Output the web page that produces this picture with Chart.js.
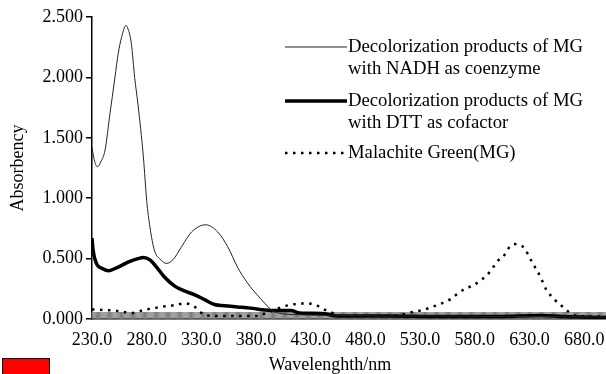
<!DOCTYPE html>
<html>
<head>
<meta charset="utf-8">
<script src="https://cdn.jsdelivr.net/npm/chart.js@4.4.1/dist/chart.umd.min.js"></script>
<style>
html, body { margin: 0; padding: 0; background: #fff; }
#wrap { position: relative; width: 606px; height: 374px; overflow: hidden; }
#mark { position: absolute; left: 2px; top: 358px; width: 46px; height: 20px; background: #ff0000; border: 1px solid #000; }
</style>
</head>
<body>
<div id="wrap">
  <canvas id="myChart" width="606" height="374"></canvas>
  <div id="mark"></div>
</div>
<script>
// wavelengths (nm) and absorbance
var nadhNm  = [230, 232, 235, 238, 242, 246, 251, 254, 257, 261, 263, 266, 269, 272, 277, 280, 283, 287, 293, 298, 304, 312, 321, 334, 345, 354, 363, 372, 381, 388, 394, 400, 420, 450, 500, 550, 600, 650, 700];
var nadhAbs = [1.42, 1.32, 1.26, 1.30, 1.40, 1.67, 2.00, 2.20, 2.33, 2.43, 2.40, 2.28, 2.00, 1.78, 1.34, 0.98, 0.76, 0.57, 0.49, 0.46, 0.49, 0.60, 0.72, 0.78, 0.72, 0.60, 0.43, 0.30, 0.20, 0.13, 0.075, 0.05, 0.035, 0.03, 0.025, 0.025, 0.02, 0.02, 0.015];

var dttNm  = [230, 231, 234, 239, 245, 254, 263, 272, 277, 283, 289, 296, 306, 315, 324, 333, 342, 351, 363, 375, 388, 400, 412, 420, 440, 455, 500, 550, 600, 640, 660, 700];
var dttAbs = [0.67, 0.57, 0.46, 0.42, 0.40, 0.43, 0.47, 0.50, 0.51, 0.49, 0.43, 0.35, 0.27, 0.23, 0.20, 0.16, 0.12, 0.11, 0.10, 0.09, 0.075, 0.07, 0.07, 0.05, 0.045, 0.025, 0.025, 0.02, 0.02, 0.03, 0.02, 0.012];

var mgNm  = [230, 240, 250, 258, 266, 278, 293, 306, 315, 324, 334, 350, 380, 392, 401, 410, 418, 427, 436, 442, 450, 460, 500, 515, 524, 533, 541, 550, 558, 563, 571, 579, 585, 591, 597, 602, 608, 612, 617, 622, 626, 630, 635, 640, 645, 653, 662, 668, 675, 700];
var mgAbs = [0.08, 0.075, 0.07, 0.06, 0.05, 0.075, 0.10, 0.115, 0.13, 0.10, 0.03, 0.025, 0.025, 0.06, 0.09, 0.115, 0.125, 0.13, 0.11, 0.08, 0.05, 0.025, 0.025, 0.04, 0.06, 0.075, 0.10, 0.13, 0.165, 0.20, 0.25, 0.28, 0.32, 0.36, 0.43, 0.49, 0.54, 0.60, 0.62, 0.61, 0.58, 0.51, 0.43, 0.35, 0.25, 0.16, 0.09, 0.045, 0.025, 0.02];

var xTicks = [230, 280, 330, 380, 430, 480, 530, 580, 630, 680];
var yTicks = [0, 0.5, 1.0, 1.5, 2.0, 2.5];

var seriesNames = [
    ["Decolorization products of MG", "with NADH as coenzyme"],
    ["Decolorization products of MG", "with DTT as cofactor"],
    ["Malachite Green(MG)"]
];
var xTitle = 'Wavelenghth/nm';
var yTitle = 'Absorbency';

var serif = "'Liberation Serif', 'Times New Roman', serif";

function toPoints(xs, ys) {
    return xs.map(function (x, i) { return {x: x, y: ys[i]}; });
}

// Excel style category ticks: one short grey mark per nm along the axis
var axisHatch = {
    id: 'axisHatch',
    beforeDatasetsDraw: function (chart) {
        var sx = chart.scales.x, ctx = chart.ctx, b = chart.chartArea.bottom;
        ctx.save();
        ctx.strokeStyle = '#7a7a7a';
        ctx.lineWidth = 1;
        ctx.beginPath();
        for (var nm = sx.min; nm <= sx.max; nm++) {
            var px = sx.getPixelForValue(nm);
            ctx.moveTo(px, b - 7);
            ctx.lineTo(px, b);
        }
        ctx.stroke();
        ctx.restore();
    }
};

// legend on the right (line sample touching the text) + x title a bit left of centre
var sideLegend = {
    id: 'sideLegend',
    afterDraw: function (chart) {
        var ctx = chart.ctx;
        var rows = [47, 101, 153];
        ctx.save();
        ctx.font = '18.7px ' + serif;
        ctx.fillStyle = '#000';
        ctx.textBaseline = 'middle';
        chart.data.datasets.forEach(function (ds, i) {
            var y = rows[i];
            ctx.strokeStyle = ds.borderColor;
            ctx.lineWidth = ds.borderWidth;
            ctx.setLineDash(ds.borderDash || []);
            ctx.beginPath();
            ctx.moveTo(285, y);
            ctx.lineTo(347, y);
            ctx.stroke();
            ctx.setLineDash([]);
            seriesNames[i].forEach(function (t, j) {
                ctx.fillText(t, 348, y + j * 22.5);
            });
        });
        ctx.font = '18px ' + serif;
        ctx.textAlign = 'center';
        ctx.fillText(xTitle, 330, 365);
        ctx.restore();
    }
};

var ctx = document.getElementById('myChart').getContext('2d');
var chart = new Chart(ctx, {
    type: 'line',
    data: {
        datasets: [{
            label: seriesNames[0].join(' '),
            data: toPoints(nadhNm, nadhAbs),
            borderColor: '#222',
            borderWidth: 1,
            pointRadius: 0,
            cubicInterpolationMode: 'monotone',
            fill: false
        }, {
            label: seriesNames[1].join(' '),
            data: toPoints(dttNm, dttAbs),
            borderColor: '#000',
            borderWidth: 3.5,
            pointRadius: 0,
            cubicInterpolationMode: 'monotone',
            fill: false
        }, {
            label: seriesNames[2].join(' '),
            data: toPoints(mgNm, mgAbs),
            borderColor: '#000',
            borderWidth: 2.5,
            borderDash: [2.5, 5.5],
            pointRadius: 0,
            cubicInterpolationMode: 'monotone',
            fill: false
        }]
    },
    options: {
        responsive: false,
        animation: false,
        devicePixelRatio: 1,
        layout: {padding: {top: 17, left: 0, right: 0, bottom: 0}},
        plugins: {
            legend: {display: false},
            tooltip: {enabled: false}
        },
        scales: {
            x: {
                type: 'linear',
                min: 230,
                max: 700,
                afterBuildTicks: function (s) {
                    s.ticks = xTicks.map(function (v) { return {value: v}; });
                },
                afterFit: function (s) {
                    s.height = 55;
                    s.paddingLeft = 0;
                    s.paddingRight = 0;
                },
                grid: {display: false, drawTicks: false},
                border: {display: true, color: '#000', width: 1.5},
                ticks: {
                    padding: 10,
                    color: '#000',
                    maxRotation: 0,
                    font: {family: serif, size: 18},
                    callback: function (v) { return Number(v).toFixed(1); }
                }
            },
            y: {
                min: 0,
                max: 2.5,
                afterBuildTicks: function (s) {
                    s.ticks = yTicks.map(function (v) { return {value: v}; });
                },
                afterFit: function (s) { s.width = 92; },
                grid: {display: true, drawOnChartArea: false, drawTicks: true, tickLength: 6, color: '#000', lineWidth: 1.5},
                border: {display: true, color: '#000', width: 1.5},
                ticks: {
                    padding: 3,
                    color: '#000',
                    font: {family: serif, size: 18},
                    callback: function (v) { return Number(v).toFixed(3); }
                },
                title: {
                    display: true,
                    text: yTitle,
                    color: '#000',
                    font: {family: serif, size: 18},
                    padding: {top: 7, bottom: 0}
                }
            }
        }
    },
    plugins: [axisHatch, sideLegend]
});
</script>
</body>
</html>
